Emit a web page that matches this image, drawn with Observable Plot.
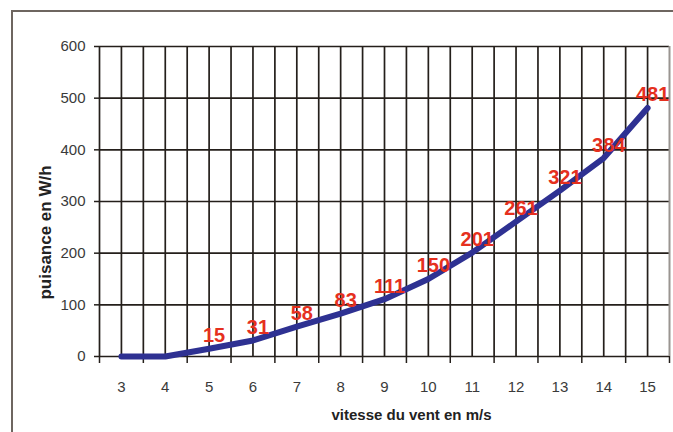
<!DOCTYPE html>
<html>
<head>
<meta charset="utf-8">
<script src="https://cdn.jsdelivr.net/npm/d3@7"></script>
<script src="https://cdn.jsdelivr.net/npm/@observablehq/plot@0.6"></script>
<style>
  html, body { margin: 0; padding: 0; background: #fff; overflow: hidden; }
  #wrap { position: relative; width: 673px; height: 432px; }
  #border { position: absolute; left: 11px; top: 10px; width: 720px; height: 520px;
            border: 2px solid #6e6660; box-sizing: border-box; pointer-events: none; }
</style>
</head>
<body>
<div id="wrap"><div id="border"></div></div>
<script>
// Data
const speeds = [3, 4, 5, 6, 7, 8, 9, 10, 11, 12, 13, 14, 15];
const power  = [0, 0, 15, 31, 58, 83, 111, 150, 201, 261, 321, 384, 481];
const yTicks = [0, 100, 200, 300, 400, 500, 600];
const xTitle = "vitesse du vent en m/s";
const yTitle = "puisance en W/h";

const data = speeds.map((s, i) => ({speed: s, power: power[i]}));
// category boundaries (half-way between categories)
const bounds = [speeds[0] - 0.5, ...speeds.map(s => s + 0.5)];
const innerLines = [...speeds, ...bounds.slice(0, -1)];
const lastBound = bounds.slice(-1);

const grid = "#241f1b";
const font = "'Liberation Sans', Arial, sans-serif";

const chart = Plot.plot({
  width: 673,
  height: 432,
  marginLeft: 99,
  marginRight: 4,
  marginTop: 46,
  marginBottom: 76,
  style: {fontFamily: font, background: "transparent"},
  x: {type: "linear", domain: [bounds[0], bounds[bounds.length - 1]], axis: null},
  y: {domain: [0, 600], axis: null},
  marks: [
    Plot.gridX(innerLines, {stroke: grid, strokeOpacity: 1, strokeWidth: 1.7}),
    Plot.gridY(yTicks, {stroke: grid, strokeOpacity: 1, strokeWidth: 1.7}),
    Plot.ruleX(lastBound, {stroke: "#9a9591", strokeWidth: 2}),
    Plot.axisY(yTicks, {tickSize: 5, tickPadding: 9, fontSize: 15, stroke: grid, fill: "#3a3a3a", label: null, strokeWidth: 1.5}),
    Plot.axisX(bounds, {tickSize: 7, tickFormat: () => "", stroke: grid, label: null, strokeWidth: 1.5}),
    Plot.axisX(speeds, {tickSize: 0, tickPadding: 25, fontSize: 15, fill: "#3a3a3a", label: null}),
    Plot.line(data, {x: "speed", y: "power", stroke: "#2e3192", strokeWidth: 6,
      strokeLinejoin: "round", strokeLinecap: "round"}),
    Plot.text(data.filter(d => d.power > 0), {x: "speed", y: "power", text: d => String(d.power),
      fill: "#e5301e", fontWeight: "bold", fontSize: 20, dx: 5, dy: -13,
      textAnchor: "middle", lineAnchor: "middle"}),
    Plot.text([yTitle], {frameAnchor: "left", rotate: -90, dx: -54, dy: 31,
      textAnchor: "middle", lineAnchor: "middle", fontWeight: "bold", fontSize: 17, fill: "#222"}),
    Plot.text([xTitle], {frameAnchor: "bottom", dx: 27, dy: 59,
      textAnchor: "middle", lineAnchor: "middle", fontWeight: "bold", fontSize: 15, fill: "#222"})
  ]
});
document.getElementById("wrap").prepend(chart);
</script>
</body>
</html>
